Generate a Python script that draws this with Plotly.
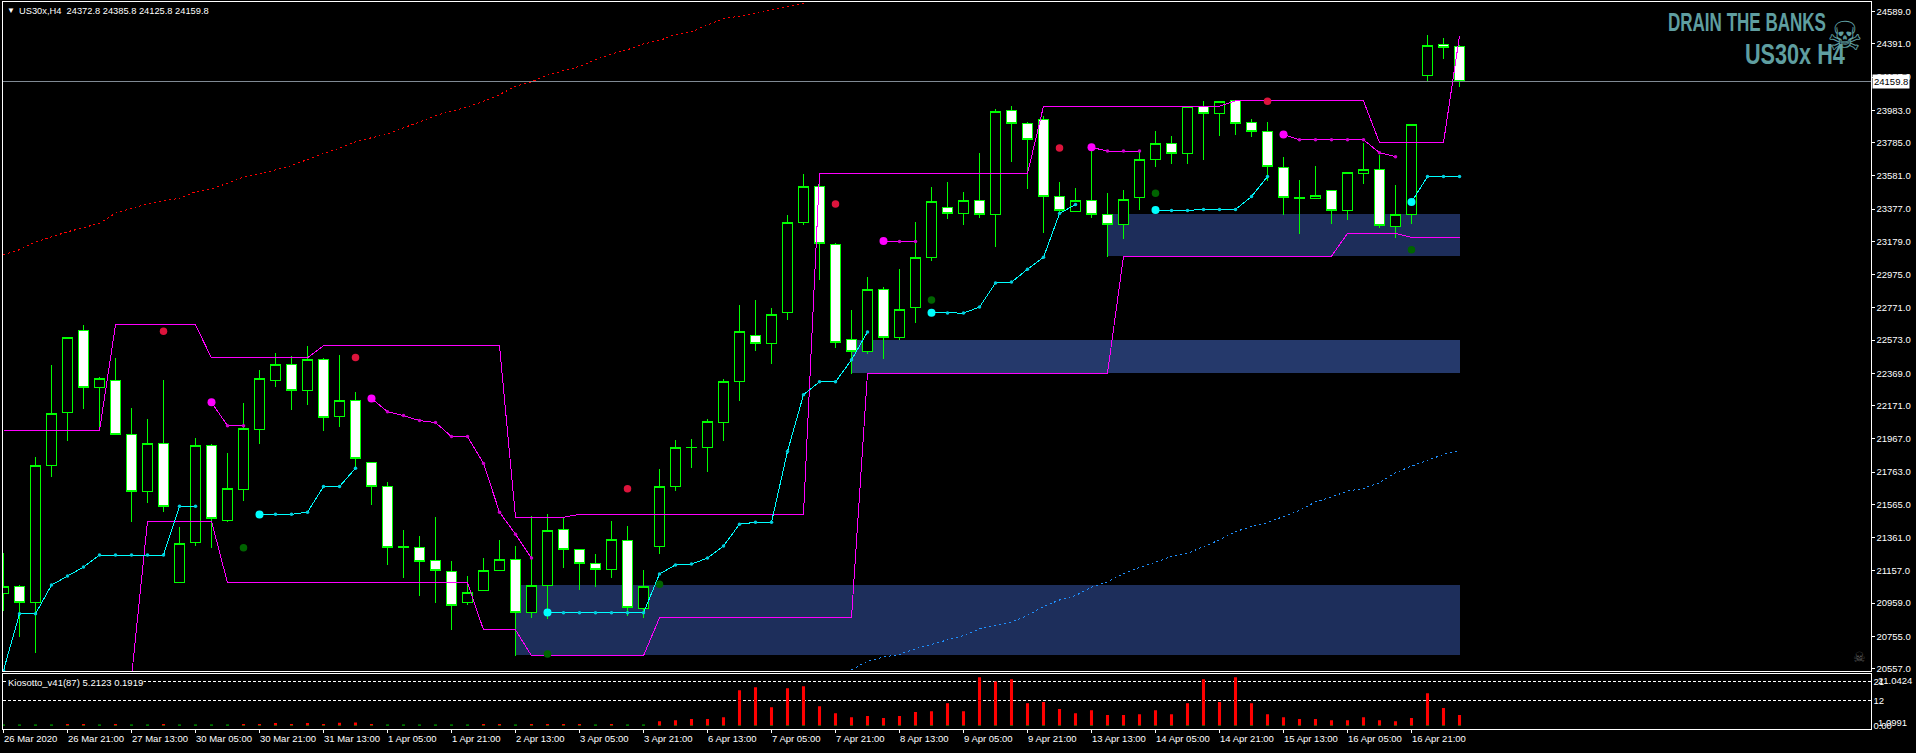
import plotly.graph_objects as go

W, H = 1916, 753

OPEN = [21019,21058,20960,21804,22128,22635,22281,22323,21993,21645,
        21938,21083,21333,21926,21468,21657,22024,22327,22421,22266,
        22452,22103,22201,21822,21675,21304,21303,21223,21156,20964,
        21034,21162,21229,20899,21070,21413,21290,21205,21168,21345,
        20924,21309,21675,21912,21914,22067,22317,22599,22553,22743,
        23295,23515,23161,22574,22501,22886,22592,22776,23081,23387,
        23350,23430,23344,23980,23901,23925,23454,23363,23430,23344,
        23283,23448,23681,23778,23717,24005,23962,24041,23907,23852,
        23632,23448,23442,23491,23369,23595,23619,23271,23344,24200,
        24390,24372.8]
CLOSE = [21058,20960,21804,22122,22592,22281,22336,21993,21645,21938,
         21553,21327,21926,21480,21663,22030,22336,22421,22262,22452,
         22097,22201,21847,21675,21303,21300,21217,21162,20942,21027,
         21162,21229,20899,21070,21406,21290,21205,21168,21351,20930,
         21058,21675,21914,21916,22073,22317,22623,22553,22733,23295,
         23515,23167,22556,22501,22886,22592,22764,23081,23424,23350,
         23430,23344,23974,23901,23803,23454,23369,23430,23344,23283,
         23436,23681,23778,23717,24005,23962,24035,23901,23852,23638,
         23448,23440,23460,23369,23601,23620,23277,23344,23895,24384,
         24371,24159.8]
HIGH = [21268,21070,21855,22423,22592,22668,22344,22464,22154,22091,
        22331,21425,21975,21938,21879,22185,22391,22496,22476,22539,
        22464,22484,22256,21822,21700,21408,21370,21486,21217,21125,
        21235,21345,21309,21494,21504,21482,21290,21260,21463,21431,
        21162,21779,21963,21969,22091,22336,22790,22819,22770,23338,
        23595,23530,23169,22759,22961,22900,23010,23297,23515,23542,
        23481,23719,23994,24011,23913,23950,23542,23509,23731,23475,
        23493,23733,23858,23823,24005,24043,24043,24047,23931,23913,
        23699,23558,23644,23497,23601,23785,23707,23528,23895,24447,
        24428,24385.8]
LOW = [20911,20750,20652,21734,21954,22150,22042,21993,21459,21573,
       21520,21083,21312,21300,21459,21587,21936,22283,22144,22174,
       22015,22040,21787,21563,21190,21111,21001,20958,20793,20946,
       21034,21162,20636,20866,20860,21172,21037,21056,21111,20878,
       20866,21263,21649,21789,21765,21954,22199,22509,22425,22694,
       23281,22943,22527,22368,22490,22460,22576,22680,23059,23316,
       23279,23322,23144,23666,23499,23232,23358,23363,23324,23085,
       23193,23371,23633,23652,23652,23676,23825,23835,23819,23548,
       23342,23226,23442,23287,23311,23531,23262,23201,23287,24155,
       24300,24125.8]

RESISTANCE = [22018,22018,22018,22018,22018,22018,22018,
              22666,22666,22666,22666,22666,22666,
              22464,22464,22464,22464,22464,22464,22464,
              22538,22538,22538,22538,22538,22538,22538,22538,22538,22538,22538,22538,
              21486,21486,21486,21486,
              21504,21504,21504,21504,21504,21504,21504,21504,21504,21504,21504,21504,21504,21504,21504,
              23595,23595,23595,23595,23595,23595,23595,23595,23595,23595,23595,23595,23595,23595,
              24008,24008,24008,24008,24008,24008,24008,24008,24008,24008,24008,24008,
              24041,24041,24041,24041,24041,24041,24041,24041,24041,
              23785,23785,23785,23785,23785,
              24440]
SUPPORT = [None,None,None,None,None,None,None,None,
           20504,
           21462,21462,21462,21462,21462,
           21083,21083,21083,21083,21083,21083,21083,21083,21083,21083,21083,21083,21083,21083,21083,21083,
           20795,20795,20795,
           20636,20636,20636,20636,20636,20636,20636,20636,
           20869,20869,20869,20869,20869,20869,20869,20869,20869,20869,20869,20869,20869,
           22370,22370,22370,22370,22370,22370,22370,22370,22370,22370,22370,22370,22370,22370,22370,22370,
           23088,23088,23088,23088,23088,23088,23088,23088,23088,23088,23088,23088,23088,23088,
           23228,23228,23228,23228,
           23204,23204,23204,23204]
TRAIL_UP = [20546,20893,20893,21070,21125,21180,21254,21254,21254,21254,21254,21553,21553,
            None,None,None,
            21502,21504,21504,21517,21675,21675,21786,
            None,None,None,None,None,None,None,None,None,None,None,
            20901,20899,20899,20899,20899,20899,20899,21138,21193,21199,21235,21309,21443,21455,21455,
            21890,22238,22317,22317,22452,22623,
            None,None,None,
            22741,22739,22739,22776,22923,22929,23008,23081,23350,23405,
            None,None,None,None,
            23371,23369,23369,23375,23375,23375,23454,23577,
            None,None,None,None,None,None,None,None,
            23421,23577,23577,23577]
TRAIL_DOWN = [None,None,None,None,None,None,None,None,None,None,None,None,None,
              22191,22048,22048,
              None,None,None,None,None,None,None,
              22215,22134,22110,22079,22067,21981,21981,21816,21517,21382,21235,
              None,None,None,None,None,None,None,None,None,None,None,
              None,None,None,None,None,None,None,None,None,None,
              23181,23179,23179,
              None,None,None,None,None,None,None,None,None,None,
              23756,23733,23733,23733,
              None,None,None,None,None,None,None,None,
              23835,23803,23803,23803,23803,23803,23723,23699,
              None,None,None,None]
SIGNAL_DOWN_X = [10, 22, 39, 52, 66, 79]
SIGNAL_DOWN_Y = [22627, 22466, 21661, 23409, 23752, 24039]
SIGNAL_UP_X = [15, 34, 41, 58, 72, 88]
SIGNAL_UP_Y = [21298, 20646, 21074, 22820, 23475, 23128]

MA_SLOW_Y = [23098,23128,23175,23206,23238,23263,23291,23352,23383,23407,
             23428,23444,23483,23499,23538,23574,23591,23619,23644,23682,
             23719,23750,23790,23815,23837,23876,23911,23951,23976,24004,
             24039,24080,24131,24159,24200,24226,24253,24294,24330,24355,
             24391,24412,24449,24465,24508,24546,24561,24577,24599,24620,
             24640]
MA_FAST_START = 53
MA_FAST_Y = [20550,20601,20628,20644,20679,20707,20734,20760,20801,20821,
             20842,20883,20938,20978,21005,21056,21090,21141,21178,21209,
             21245,21264,21306,21347,21398,21429,21453,21492,21528,21580,
             21610,21647,21663,21698,21759,21800,21834,21871,21895]

ZONE_START = [32, 53, 69]
ZONE_END = [91, 91, 91]
ZONE_TOP = [21072, 22576, 23346]
ZONE_BOTTOM = [20638, 22374, 23090]
ZONE_COLORS = ["#1d2e5b", "#25396b", "#1d2d5a"]

PRICE_TICKS = [24589,24391,24187,23983,23785,23581,23377,23179,22975,22771,22573,
               22369,22171,21967,21763,21565,21361,21157,20959,20755,20557]
LAST_PRICE = 24159.8

KIOSOTTO_RED = [0,0,0,0,1.0,1.0,0,1.0,0,0,
                1.0,0,0,0,0,1.0,1.0,1.4,1.0,1.4,
                1.0,1.6,1.7,1.0,0,0,0,0,0,0,
                1.0,1.0,0,1.0,1.0,1.0,1.0,0,1.0,0,
                0,2.3,2.8,3.3,3.3,4.2,16.9,18.3,8.9,17.8,
                18.8,9.4,6.1,4.2,4.7,3.8,4.7,6.6,7.0,10.8,
                7.0,23.0,21.0,22.1,10.8,11.3,8.0,6.1,7.5,5.2,
                5.2,5.6,7.5,5.6,10.8,22.1,11.3,23.0,10.8,5.6,
                4.2,3.3,3.3,2.8,2.8,4.2,2.8,2.3,3.8,15.5,
                8.5,5.2]
KIOSOTTO_GREEN = [0.9,0.9,0.9,0.9,0.4,0.4,0.9,0.4,0.9,0.9,
                  0.4,0.9,0.9,0.9,0.9,0.4,0.4,0.4,0.4,0.4,
                  0.4,0.4,0.4,0.4,0.9,0.9,0.9,0.9,0.9,0.9,
                  0.4,0.4,0.9,0.4,0.4,0.4,0.4,0.9,0.4,0.9,
                  0.9,0.4,0.4,0.4,0.4,0.4,0.4,0.4,0.4,0.4,
                  0.4,0.4,0.4,0.4,0.4,0.4,0.4,0.4,0.4,0.4,
                  0.4,0.4,0.4,0.4,0.4,0.4,0.4,0.4,0.4,0.4,
                  0.4,0.4,0.4,0.4,0.4,0.4,0.4,0.4,0.4,0.4,
                  0.4,0.4,0.4,0.4,0.4,0.4,0.4,0.4,0.4,0.4,
                  0.4,0.4]
KIOSOTTO_LEVELS = [21, 12]
DATE_TICKS = ["26 Mar 2020","26 Mar 21:00","27 Mar 13:00","30 Mar 05:00","30 Mar 21:00",
              "31 Mar 13:00","1 Apr 05:00","1 Apr 21:00","2 Apr 13:00","3 Apr 05:00",
              "3 Apr 21:00","6 Apr 13:00","7 Apr 05:00","7 Apr 21:00","8 Apr 13:00",
              "9 Apr 05:00","9 Apr 21:00","13 Apr 13:00","14 Apr 05:00","14 Apr 21:00",
              "15 Apr 13:00","16 Apr 05:00","16 Apr 21:00"]
HEADER = "US30x,H4  24372.8 24385.8 24125.8 24159.8"
SUBHEADER = "Kiosotto_v41(87) 5.2123 0.1919"
WATERMARK_TOP = "DRAIN THE BANKS"
WATERMARK_BOTTOM = "US30x H4"

FONT = "Liberation Sans"
FS = 9.5
BARS = list(range(len(OPEN)))
TICK_POS = BARS[::4][:len(DATE_TICKS)]
XR = [-0.0625, 116.6875]


def fx(p):
    return p / W


def fy(p):
    return 1 - p / H


def trail(series, name, color, dot):
    sizes, colors = [], []
    for i, v in enumerate(series):
        first = v is not None and i > 0 and series[i - 1] is None
        sizes.append(8 if first else 3.5)
        colors.append(color if first else dot)
    return go.Scatter(x=BARS, y=series, mode="lines+markers", name=name, xaxis="x", yaxis="y",
                      line=dict(color=color, width=1), connectgaps=False,
                      marker=dict(size=sizes, color=colors, opacity=1, symbol="circle", line=dict(width=0)))


fig = go.Figure()
fig.add_trace(go.Candlestick(x=BARS, open=OPEN, high=HIGH, low=LOW, close=CLOSE, xaxis="x", yaxis="y",
                             increasing=dict(line=dict(color="#00ff00", width=1), fillcolor="#000000"),
                             decreasing=dict(line=dict(color="#00ff00", width=1), fillcolor="#ffffff"),
                             whiskerwidth=0, name="US30x,H4"))
fig.add_trace(go.Scatter(x=BARS, y=RESISTANCE, mode="lines", name="Resistance", xaxis="x", yaxis="y",
                         line=dict(color="#ff00ff", width=1)))
fig.add_trace(go.Scatter(x=BARS, y=SUPPORT, mode="lines", name="Support", xaxis="x", yaxis="y",
                         line=dict(color="#ff00ff", width=1)))
fig.add_trace(trail(TRAIL_UP, "Trail up", "#00ffff", "#00d0e0"))
fig.add_trace(trail(TRAIL_DOWN, "Trail down", "#ff00ff", "#d000d0"))
fig.add_trace(go.Scatter(x=SIGNAL_DOWN_X, y=SIGNAL_DOWN_Y, mode="markers", xaxis="x", yaxis="y", name="Sell",
                         marker=dict(size=7.5, color="#dc143c")))
fig.add_trace(go.Scatter(x=SIGNAL_UP_X, y=SIGNAL_UP_Y, mode="markers", xaxis="x", yaxis="y", name="Buy",
                         marker=dict(size=7.5, color="#006400")))
fig.add_trace(go.Scatter(x=BARS[:len(MA_SLOW_Y)], y=MA_SLOW_Y, mode="lines", xaxis="x", yaxis="y", name="MA slow",
                         line=dict(color="#ff0000", width=1, dash="2px,3px")))
fig.add_trace(go.Scatter(x=BARS[MA_FAST_START:], y=MA_FAST_Y, mode="lines", xaxis="x", yaxis="y", name="MA fast",
                         line=dict(color="#1e90ff", width=1, dash="2px,3px")))
fig.add_trace(go.Bar(x=BARS, y=KIOSOTTO_RED, width=0.19, xaxis="x2", yaxis="y2", name="Kiosotto up",
                     marker=dict(color="#ff0000", line=dict(width=0))))
fig.add_trace(go.Bar(x=BARS, y=KIOSOTTO_GREEN, width=0.19, xaxis="x2", yaxis="y2", name="Kiosotto down",
                     marker=dict(color="#007000", line=dict(width=0))))

shapes = []
for s, e, t, b, c in zip(ZONE_START, ZONE_END, ZONE_TOP, ZONE_BOTTOM, ZONE_COLORS):
    shapes.append(dict(type="rect", xref="x", yref="y", x0=s, x1=e, y0=b, y1=t, layer="below",
                       fillcolor=c, line=dict(width=0)))
shapes.append(dict(type="line", xref="x domain", yref="y", x0=0, x1=1, y0=LAST_PRICE, y1=LAST_PRICE,
                   line=dict(color="#808a94", width=1), layer="above"))
for lv in KIOSOTTO_LEVELS:
    shapes.append(dict(type="line", xref="x2 domain", yref="y2", x0=0, x1=1, y0=lv, y1=lv,
                       line=dict(color="#ffffff", width=1, dash="3px,2px"), layer="below"))


def note(text, x, y, size=FS, color="#ffffff", family=FONT, anchor="left", weight=None, **kw):
    font = dict(size=size, color=color, family=family)
    if weight:
        font["weight"] = weight
    return dict(text=text, x=fx(x), y=fy(y), xref="paper", yref="paper", xanchor=anchor, yanchor="middle",
                showarrow=False, borderpad=0, font=font, **kw)


annotations = [
    note("\u25bc", 5.5, 10.5, size=8),
    note(HEADER, 18, 10.7, size=9.3),
    note(SUBHEADER, 7, 685.7, bgcolor="#000000"),
    note("21.0424", 1877, 683.7),
    note("1.0991", 1877, 725.7),
    note(WATERMARK_TOP, 1747, 21.7, size=25, color="#5f9ea0", anchor="center", weight=700),
    note(WATERMARK_BOTTOM, 1795, 54.4, size=29, color="#5f9ea0", anchor="center", weight=700),
    note("\u2620", 1845, 36, size=40, color="#5f9ea0", family="DejaVu Sans", anchor="center"),
    note("\u2620", 1859.7, 659.7, size=14, color="#5a5a5a", family="DejaVu Sans", anchor="center"),
    dict(text=f"{LAST_PRICE:.1f}", x=fx(1872), y=LAST_PRICE, xref="paper", yref="y", xanchor="left", yanchor="middle",
         showarrow=False, bgcolor="#ffffff", borderpad=1, font=dict(size=FS, color="#000000", family=FONT)),
]
for pos, label in zip(TICK_POS, DATE_TICKS):
    annotations.append(dict(text=label, x=pos, y=fy(741.3), xref="x2", yref="paper", xanchor="left", yanchor="middle",
                            showarrow=False, borderpad=0, xshift=-1, font=dict(size=FS, color="#ffffff", family=FONT)))

axis_line = dict(showline=True, linecolor="#ffffff", linewidth=1, mirror=True, showgrid=False, zeroline=False)
fig.update_layout(
    width=W, height=H, autosize=False, margin=dict(l=0, r=0, t=0, b=0),
    paper_bgcolor="#000000", plot_bgcolor="#000000", showlegend=False, barmode="overlay",
    boxgap=0.3, boxgroupgap=0.1,
    hovermode=False, dragmode=False, shapes=shapes, annotations=annotations,
    font=dict(family=FONT, size=FS, color="#ffffff"),
    xaxis=dict(domain=[fx(2.5), fx(1870.5)], range=XR, anchor="y", rangeslider=dict(visible=False),
               showticklabels=False, ticks="", **axis_line),
    xaxis2=dict(domain=[fx(2.5), fx(1870.5)], range=XR, anchor="y2", tickmode="array", tickvals=TICK_POS,
                ticks="outside", ticklen=3, tickcolor="#ffffff", showticklabels=False, **axis_line),
    yaxis=dict(domain=[fy(674), fy(2.5)], range=[20540.3, 24645.2], anchor="x", side="right",
               tickmode="array", tickvals=PRICE_TICKS, ticktext=[f"{v:.1f}" for v in PRICE_TICKS],
               ticks="outside", ticklen=3, tickcolor="#ffffff", tickfont=dict(size=FS, family=FONT, color="#ffffff"),
               **axis_line),
    yaxis2=dict(domain=[fy(732.3), fy(676.7)], range=[-1.55, 24.55], anchor="x2", side="right",
                tickmode="array", tickvals=[21, 12, 0], ticktext=["21", "12", "0.00"], ticks="",
                tickfont=dict(size=FS, family=FONT, color="#ffffff"), **axis_line),
)

PAGE_SCRIPT = """
var st = document.createElement('style');
st.textContent = 'html,body{margin:0;padding:0;background:#000;overflow:hidden}svg path.js-line,svg .boxes path,svg .shapelayer path{shape-rendering:crispEdges !important}';
document.head.appendChild(st);
function fitWatermark(){
  document.querySelectorAll('.annotation-text').forEach(function(t){
    if(t.textContent==='DRAIN THE BANKS'){t.setAttribute('textLength','158');t.setAttribute('lengthAdjust','spacingAndGlyphs');}
    if(t.textContent==='US30x H4'){t.setAttribute('textLength','100');t.setAttribute('lengthAdjust','spacingAndGlyphs');}
  });
}
fitWatermark();setTimeout(fitWatermark,50);setTimeout(fitWatermark,300);
"""
fig.write_html("out.html", config={"displayModeBar": False, "staticPlot": True}, post_script=PAGE_SCRIPT)
